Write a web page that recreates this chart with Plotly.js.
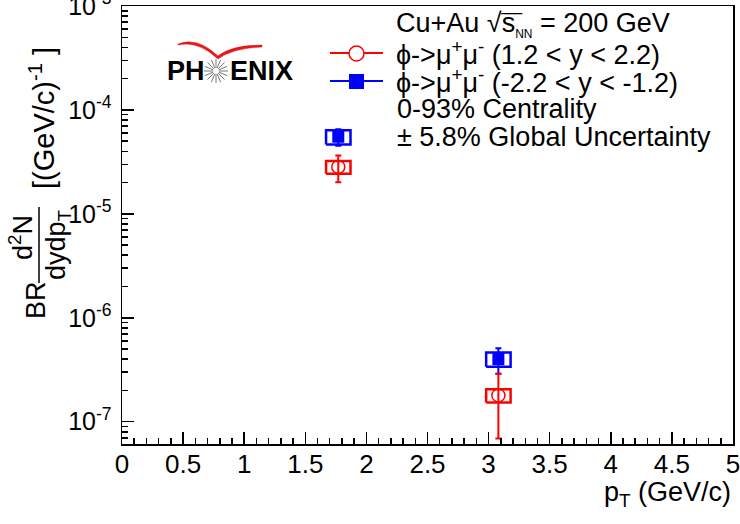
<!DOCTYPE html>
<html>
<head>
<meta charset="utf-8">
<script src="https://cdn.plot.ly/plotly-3.0.1.min.js"></script>
<style>html,body{margin:0;padding:0;background:#fff;}</style>
</head>
<body>
<div id="chart" style="width:740px;height:524px;"></div>
<script>
// ---- data ----
var ptFwd   = [1.77, 3.08];
var valFwd  = [2.83e-5, 1.79e-7];
var statFwd = [0.82e-5, 1.1e-7];
var sysFwd  = [0.40e-5, 0.26e-7];

var ptBwd   = [1.77, 3.08];
var valBwd  = [5.52e-5, 4.0e-7];
var statBwd = [1.0e-5, 1.1e-7];
var sysBwd  = [0.87e-5, 0.63e-7];

var sysHalfWidth = 0.1;

var yTickVals = [1e-7, 1e-6, 1e-5, 1e-4, 1e-3];
var yTickText = ["10<sup>-7</sup>", "10<sup>-6</sup>", "10<sup>-5</sup>", "10<sup>-4</sup>", "10<sup>-3</sup>"];

var labelFwd = "ϕ->μ<sup>+</sup>μ<sup>-</sup> (1.2 &lt; y &lt; 2.2)";
var labelBwd = "ϕ->μ<sup>+</sup>μ<sup>-</sup> (-2.2 &lt; y &lt; -1.2)";

// ---- geometry helpers (pixels -> paper) ----
var L = 122, R = 733, T = 6, B = 444;
function px(x){ return (x - L) / (R - L); }
function py(y){ return (B - y) / (B - T); }

function boxes(xs, vs, ss){
  var X = [], Y = [];
  for (var i = 0; i < xs.length; i++){
    var x0 = xs[i] - sysHalfWidth, x1 = xs[i] + sysHalfWidth;
    var y0 = vs[i] - ss[i], y1 = vs[i] + ss[i];
    X.push(x0, x1, x1, x0, x0, null);
    Y.push(y0, y0, y1, y1, y0, null);
  }
  return {x: X, y: Y};
}

var RED = "#ff0000", BLUE = "#0000ff";
var bF = boxes(ptFwd, valFwd, sysFwd);
var bB = boxes(ptBwd, valBwd, sysBwd);

var traces = [
  {x: bB.x, y: bB.y, mode: "lines", line: {color: BLUE, width: 2.5}, hoverinfo: "skip", showlegend: false},
  {x: bF.x, y: bF.y, mode: "lines", line: {color: RED, width: 2.5}, hoverinfo: "skip", showlegend: false},
  {x: ptBwd, y: valBwd, mode: "markers", showlegend: false,
   marker: {symbol: "square", size: 12, color: BLUE},
   error_y: {type: "data", array: statBwd, visible: true, color: BLUE, thickness: 2, width: 3}},
  {x: ptFwd, y: valFwd, mode: "markers", showlegend: false,
   marker: {symbol: "circle-open", size: 13, color: RED, line: {width: 1.5, color: RED}},
   error_y: {type: "data", array: statFwd, visible: true, color: RED, thickness: 2, width: 3}}
];

var FONT = "Liberation Sans, Arial, Helvetica, sans-serif";
var fs = 27;

var ann = [];
function txt(t, x, y, opt){
  var a = {text: t, x: px(x), y: py(y), xref: "paper", yref: "paper", showarrow: false,
           xanchor: "left", yanchor: "middle", font: {family: FONT, size: fs, color: "#000"}};
  for (var k in opt){ a[k] = opt[k]; }
  ann.push(a);
}
// legend-like text block
txt("Cu+Au √s<sub><span style=\"font-size:12px\">NN</span></sub> = 200 GeV", 394, 24);
// overline of the square root (aligned with the glyphs via an invisible prefix)
txt("<span style=\"color:rgba(0,0,0,0)\">Cu+Au √</span><span style=\"font-size:20px\">‾‾‾</span>", 394, 20);
txt(labelFwd, 394, 53);
txt(labelBwd, 394, 81);
txt("0-93% Centrality", 395, 109);
txt("± 5.8% Global Uncertainty", 395, 137);

// axis titles
txt("p<sub>T</sub> (GeV/c)", 733, 494, {xanchor: "right"});
txt("BR", 36, 300, {textangle: -90, xanchor: "center", yanchor: "middle"});
txt("d<sup>2</sup>N", 21, 238, {textangle: -90, xanchor: "center", yanchor: "middle"});
txt("dydp<sub>T</sub>", 58, 245, {textangle: -90, xanchor: "center", yanchor: "middle"});
txt("[(GeV/c)<sup>-1</sup> ]", 42, 118, {textangle: -90, xanchor: "center", yanchor: "middle",
    font: {family: FONT, size: 29, color: "#000"}});

// PHENIX logo text
txt("<b>PH</b>", 165, 71, {font: {family: FONT, size: 27, color: "#000"}});
txt("<b>ENIX</b>", 228, 71, {font: {family: FONT, size: 27, color: "#000"}});

var shapes = [];
function P(x, y){ return px(x).toFixed(5) + "," + py(y).toFixed(5); }
// fraction bar
shapes.push({type: "line", xref: "paper", yref: "paper",
  x0: px(39), x1: px(39), y0: py(207), y1: py(283), line: {color: "#000", width: 1.5}});
// legend symbols
shapes.push({type: "line", xref: "paper", yref: "paper", x0: px(330), x1: px(383), y0: py(53), y1: py(53), line: {color: RED, width: 2}});
shapes.push({type: "circle", xref: "paper", yref: "paper", x0: px(349), x1: px(364), y0: py(46), y1: py(61), fillcolor: "#fff", line: {color: RED, width: 1.5}});
shapes.push({type: "line", xref: "paper", yref: "paper", x0: px(330), x1: px(383), y0: py(81), y1: py(81), line: {color: BLUE, width: 2}});
shapes.push({type: "rect", xref: "paper", yref: "paper", x0: px(349), x1: px(364), y0: py(74), y1: py(89), fillcolor: BLUE, line: {color: BLUE, width: 0}});
// swoosh
shapes.push({type: "path", xref: "paper", yref: "paper",
  path: "M" + P(178,44) + " Q" + P(197,36) + " " + P(218,56) + " Q" + P(232,45) + " " + P(262,45) +
        " L" + P(262,47) + " Q" + P(233,48) + " " + P(218,59) + " Q" + P(198,40) + " " + P(178,45) + " Z",
  fillcolor: "#e8151b", line: {color: "#e8151b", width: 0.5}});
// starburst
var cx = 216, cy = 71, star = "";
for (var k = 0; k < 16; k++){
  var a = k * Math.PI / 8;
  star += "M" + P(cx + 3*Math.cos(a), cy + 3*Math.sin(a)) + " L" + P(cx + 12*Math.cos(a), cy + 12*Math.sin(a)) + " ";
}
shapes.push({type: "path", xref: "paper", yref: "paper", path: star, line: {color: "#777", width: 1}});

var layout = {
  width: 740, height: 524,
  margin: {l: L, r: 740 - R, t: T, b: 524 - B},
  paper_bgcolor: "#fff", plot_bgcolor: "#fff",
  font: {family: FONT, size: 26, color: "#000"},
  showlegend: false,
  xaxis: {
    range: [0, 5], dtick: 0.5, tick0: 0,
    ticks: "inside", ticklen: 12, tickwidth: 1.5, tickcolor: "#000",
    minor: {dtick: 0.1, ticks: "inside", ticklen: 6, tickwidth: 1.5, tickcolor: "#000"},
    showline: true, linewidth: 1.5, linecolor: "#000", mirror: true,
    showgrid: false, zeroline: false,
    tickfont: {family: FONT, size: 26, color: "#000"},
    ticklabelstandoff: -4, ticklabeloverflow: "allow"
  },
  yaxis: {
    type: "log", range: [Math.log10(6.1e-8), -3],
    tickmode: "array", tickvals: yTickVals, ticktext: yTickText,
    ticks: "inside", ticklen: 12, tickwidth: 1.5, tickcolor: "#000",
    minor: {ticks: "inside", ticklen: 6, tickwidth: 1.5, tickcolor: "#000", dtick: "D1"},
    showline: true, linewidth: 1.5, linecolor: "#000", mirror: true,
    showgrid: false, zeroline: false,
    tickfont: {family: FONT, size: 25, color: "#000"},
    ticklabelstandoff: 4, ticklabeloverflow: "allow"
  },
  annotations: ann,
  shapes: shapes
};

Plotly.newPlot("chart", traces, layout, {displayModeBar: false, staticPlot: true});
</script>
</body>
</html>
